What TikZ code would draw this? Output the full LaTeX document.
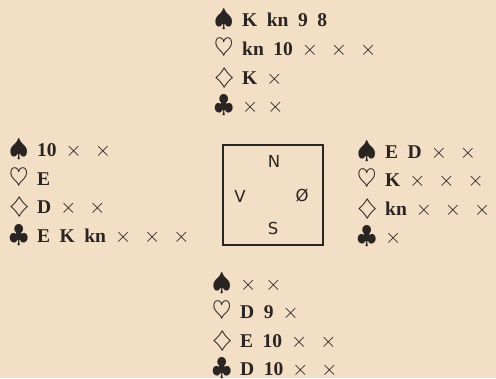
\documentclass[tikz,border=0pt]{standalone}
\usepackage{fontspec}
\usepackage{graphicx}
\setmainfont{Liberation Serif}
\newfontfamily\retning{DejaVu Sans}
\usepackage{tikz}
\usetikzlibrary{positioning}
\definecolor{papir}{RGB}{242,223,198}
\definecolor{blaek}{RGB}{42,36,34}
\newcommand{\farve}[1]{\makebox[28pt][l]{\fontsize{24}{24}\selectfont$#1$}}
\newcommand{\ruder}{\makebox[28pt][l]{\fontsize{24}{24}\selectfont\scalebox{1.05}[0.92]{$\diamondsuit$}}}
\newcommand{\lavx}{{\fontsize{22}{22}\selectfont$\times$}}
\newcommand{\lav}{\hskip 9pt\lavx\hskip 4pt}
\newcommand{\vidt}{\spaceskip 9.5pt\relax}
\tikzset{hand/.style={anchor=base west,inner sep=0pt,text=blaek,
  font=\fontsize{19.5}{24}\selectfont\bfseries\vidt},
  himmel/.style={text=blaek,inner sep=0pt,font=\retning\fontsize{16.5}{18}\selectfont}}
\begin{document}
\begin{tikzpicture}[x=1pt,y=-1pt]
\fill[papir](0,0) rectangle (496,378);
% nord
\draw(214,27)node[hand](N1){\farve\spadesuit K kn 9 8}
(214,55.5)node[hand](N2){\farve\heartsuit kn 10\lav\lav\lav}
(214,84)node[hand](N3){\ruder K\lav}
(214,112.5)node[hand](N4){\farve\clubsuit\lavx\lav};
% vest
\draw(9,156.5)node[hand](V1){\farve\spadesuit 10\lav\lav}
(9,185)node[hand](V2){\farve\heartsuit E}
(9,213.5)node[hand](V3){\ruder D\lav\lav}
(9,242)node[hand](V4){\farve\clubsuit E K kn\lav\lav\lav};
% oest
\draw(357,158)node[hand](O1){\farve\spadesuit E D\lav\lav}
(357,186.5)node[hand](O2){\farve\heartsuit K\lav\lav\lav}
(357,215)node[hand](O3){\ruder kn\lav\lav\lav}
(357,243.5)node[hand](O4){\farve\clubsuit\lavx};
% syd
\draw(212,290)node[hand](S1){\farve\spadesuit\lavx\lav}
(212,318.5)node[hand](S2){\farve\heartsuit D 9\lav}
(212,347)node[hand](S3){\ruder E 10\lav\lav}
(212,375.5)node[hand](S4){\farve\clubsuit D 10\lav\lav};
% bordet
\node[draw=blaek,line width=1.5pt,minimum size=100pt,inner sep=0pt](bord) at (273,195){};
\draw(274,161)node[himmel](n){N}
(240,196)node[himmel](v){V}
(302,196)node[himmel](o){\O}
(273,228)node[himmel](s){S};
\end{tikzpicture}
\end{document}
